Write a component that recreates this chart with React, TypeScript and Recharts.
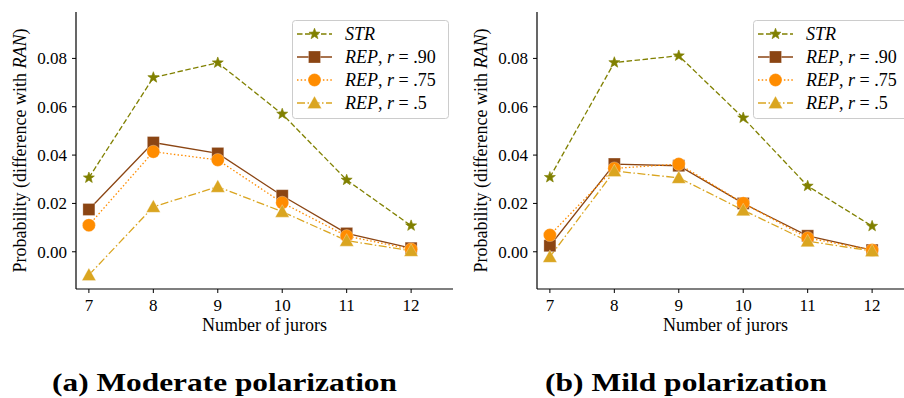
import React from 'react';
import { LineChart, Line, XAxis, YAxis, Legend } from 'recharts';

const jurors = [7, 8, 9, 10, 11, 12];
const yTicks = [0, 0.02, 0.04, 0.06, 0.08];

const modStr = [0.0306, 0.0721, 0.0782, 0.057, 0.0297, 0.0108];
const modRep90 = [0.0175, 0.0452, 0.0407, 0.0232, 0.0076, 0.0015];
const modRep75 = [0.011, 0.0414, 0.038, 0.0203, 0.0065, 0.001];
const modRep50 = [-0.0096, 0.0186, 0.0269, 0.0166, 0.0046, 0.0004];

const mildStr = [0.0308, 0.0783, 0.0811, 0.0554, 0.0272, 0.0106];
const mildRep90 = [0.0025, 0.0363, 0.0356, 0.02, 0.0066, 0.0007];
const mildRep75 = [0.0069, 0.0345, 0.0363, 0.0201, 0.0057, 0.0007];
const mildRep50 = [-0.0021, 0.0334, 0.0306, 0.0172, 0.0044, 0.0003];

const captionA = '(a) Moderate polarization';
const captionB = '(b) Mild polarization';

const FONT = "'Liberation Serif', 'Times New Roman', serif";
const C_STR = '#808000';
const C_90 = '#8B4513';
const C_75 = '#FF8C00';
const C_50 = '#DAA520';

const DASH_STR = '5.5 2.5';
const DASH_75 = '1.5 2.2';
const DASH_50 = '8 2.5 1.5 2.5';

type MP = { cx: number; cy: number; color: string };

const StarM = ({ cx, cy, color }: MP) => {
  const pts: string[] = [];
  for (let i = 0; i < 10; i++) {
    const r = i % 2 === 0 ? 5.8 : 2.4;
    const a = -Math.PI / 2 + (i * Math.PI) / 5;
    pts.push(`${cx + r * Math.cos(a)},${cy + r * Math.sin(a)}`);
  }
  return <polygon points={pts.join(' ')} fill={color} stroke={color} strokeWidth={0.6} />;
};
const SquareM = ({ cx, cy, color }: MP) => (
  <rect x={cx - 6} y={cy - 6} width={12} height={12} fill={color} stroke="#fff" strokeOpacity={0.35} strokeWidth={0.8} />
);
const CircleM = ({ cx, cy, color }: MP) => (
  <circle cx={cx} cy={cy} r={6.5} fill={color} stroke="#fff" strokeOpacity={0.35} strokeWidth={0.8} />
);
const TriM = ({ cx, cy, color }: MP) => (
  <polygon
    points={`${cx},${cy - 7} ${cx - 7},${cy + 5.5} ${cx + 7},${cy + 5.5}`}
    fill={color}
    stroke="#fff"
    strokeOpacity={0.35}
    strokeWidth={0.8}
  />
);

const mkDot = (M: any, color: string) => (props: any) => {
  const { cx, cy, index } = props;
  if (cx == null || cy == null) return <g key={`d-${index}`} />;
  return (
    <g key={`d-${index}`}>
      <M cx={cx} cy={cy} color={color} />
    </g>
  );
};

const series = [
  { key: 'str', color: C_STR, dash: DASH_STR, M: StarM, label: 'STR' },
  { key: 'r90', color: C_90, dash: undefined, M: SquareM, label: '.90' },
  { key: 'r75', color: C_75, dash: DASH_75, M: CircleM, label: '.75' },
  { key: 'r50', color: C_50, dash: DASH_50, M: TriM, label: '.5' },
];

const LegendBox = () => {
  const rowY = [14, 37, 60, 83];
  return (
    <svg width={160} height={100} style={{ display: 'block', overflow: 'visible' }}>
      <rect x={0.5} y={0.5} width={156} height={98} rx={3} ry={3} fill="#fff" fillOpacity={0.85} stroke="#cccccc" strokeWidth={1} />
      {series.map((s, i) => {
        const y = rowY[i];
        return (
          <g key={s.key}>
            <line x1={5} x2={40} y1={y} y2={y} stroke={s.color} strokeWidth={1.3} strokeDasharray={s.dash} />
            <s.M cx={22.5} cy={y} color={s.color} />
            {i === 0 ? (
              <text x={53} y={y + 6} fontFamily={FONT} fontSize={18} fontStyle="italic" fill="#000">
                STR
              </text>
            ) : (
              <text x={53} y={y + 6} fontFamily={FONT} fontSize={18} fill="#000" style={{ whiteSpace: 'pre' }}>
                <tspan fontStyle="italic">REP</tspan>
                <tspan>{', '}</tspan>
                <tspan fontStyle="italic">r</tspan>
                <tspan>{' = ' + s.label}</tspan>
              </text>
            )}
          </g>
        );
      })}
    </svg>
  );
};

const XLabel = (props: any) => {
  const vb = props.viewBox || {};
  return (
    <text x={vb.x + vb.width / 2} y={vb.y + 42} textAnchor="middle" fontFamily={FONT} fontSize={18} fill="#000">
      Number of jurors
    </text>
  );
};

const YLabel = (props: any) => {
  const vb = props.viewBox || {};
  const cy = vb.y + vb.height / 2;
  const x = 26;
  return (
    <text x={x} y={cy} transform={`rotate(-90, ${x}, ${cy})`} textAnchor="middle" fontFamily={FONT} fontSize={18} fill="#000" style={{ whiteSpace: 'pre' }}>
      <tspan>Probability (difference with </tspan>
      <tspan fontStyle="italic">RAN</tspan>
      <tspan>)</tspan>
    </text>
  );
};

const Panel = ({ str, r90, r75, r50, left }: { str: number[]; r90: number[]; r75: number[]; r50: number[]; left: number }) => {
  const rows = jurors.map((n, i) => ({ n, str: str[i], r90: r90[i], r75: r75[i], r50: r50[i] }));
  return (
    <div style={{ position: 'absolute', left, top: 0 }}>
      <LineChart width={460} height={340} data={rows} margin={{ top: 12, right: 7, bottom: 0, left: 0 }}>
        <XAxis
          dataKey="n"
          type="number"
          domain={[6.8, 12.65]}
          ticks={jurors}
          allowDataOverflow
          height={51}
          tickSize={4}
          tickMargin={6}
          tick={{ fill: '#000', fontSize: 17, fontFamily: FONT }}
          axisLine={{ stroke: '#000', strokeWidth: 1.2 }}
          tickLine={{ stroke: '#000', strokeWidth: 1 }}
          label={XLabel}
        />
        <YAxis
          type="number"
          domain={[-0.0154, 0.0992]}
          ticks={yTicks}
          allowDataOverflow
          width={76}
          tickSize={4}
          tickMargin={5}
          tickFormatter={(v: number) => v.toFixed(2)}
          tick={{ fill: '#000', fontSize: 17, fontFamily: FONT }}
          axisLine={{ stroke: '#000', strokeWidth: 1.2 }}
          tickLine={{ stroke: '#000', strokeWidth: 1 }}
          label={YLabel}
        />
        {series.map((s) => (
          <Line
            key={s.key}
            dataKey={s.key}
            type="linear"
            stroke={s.color}
            strokeWidth={1.3}
            strokeDasharray={s.dash}
            dot={mkDot(s.M, s.color)}
            activeDot={false}
            isAnimationActive={false}
          />
        ))}
        <Legend
          layout="vertical"
          align="center"
          verticalAlign="middle"
          wrapperStyle={{ position: 'absolute', left: 292, top: 20, width: 160, height: 100 }}
          content={() => <LegendBox />}
        />
      </LineChart>
    </div>
  );
};

export default function App() {
  return (
    <div style={{ position: 'fixed', left: 0, top: 0, width: 904, height: 398, overflow: 'hidden', background: '#fff' }}>
      <Panel str={modStr} r90={modRep90} r75={modRep75} r50={modRep50} left={0} />
      <Panel str={mildStr} r90={mildRep90} r75={mildRep75} r50={mildRep50} left={461} />
      <svg width={904} height={398} style={{ position: 'absolute', left: 0, top: 0, pointerEvents: 'none' }}>
        <text x={224.5} y={391} textAnchor="middle" fontFamily={FONT} fontWeight="bold" fontSize={25} fill="#000" textLength={345} lengthAdjust="spacingAndGlyphs">
          {captionA}
        </text>
        <text x={686} y={391} textAnchor="middle" fontFamily={FONT} fontWeight="bold" fontSize={25} fill="#000" textLength={282} lengthAdjust="spacingAndGlyphs">
          {captionB}
        </text>
      </svg>
    </div>
  );
}
